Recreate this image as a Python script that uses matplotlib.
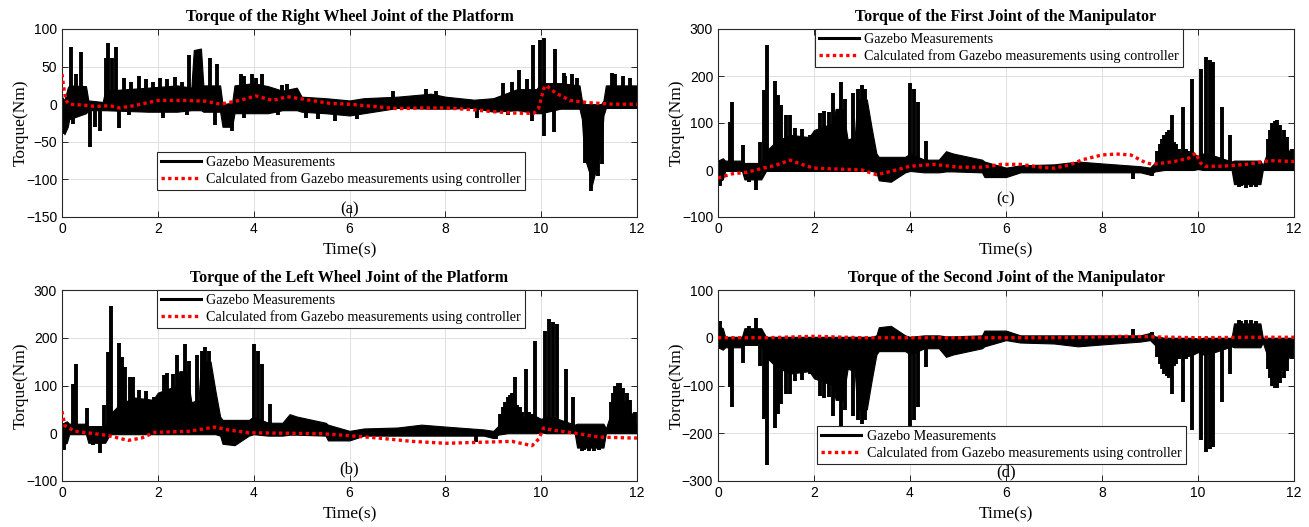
import matplotlib
matplotlib.use('Agg')
import matplotlib.pyplot as plt
from matplotlib.lines import Line2D

plt.rcParams['font.family'] = ['Liberation Serif', 'DejaVu Serif']

# ---- right wheel joint (a): black measurement band + spikes, red controller curve
wheel_band_t = [0, 0.05, 0.12, 0.15, 0.5, 0.55, 0.85, 0.9, 1.8, 2.4, 2.7, 2.75, 2.9, 2.95, 3.3,
                3.35, 3.55, 3.6, 4.0, 4.3, 4.6, 4.9, 5.0, 5.5, 6.0, 6.3, 7.0, 7.7, 8.0, 8.6,
                9.0, 9.5, 9.9, 10.0, 10.4, 10.8, 10.85, 10.9, 11.0, 11.05, 11.15, 11.25, 11.3, 11.35, 12]
wheel_band_hi = [10, 5, 22, 25, 24, 5, 3, 18, 22, 25, 22, 72, 74, 25, 25,
                 0, 2, 25, 28, 24, 18, 22, 10, 8, 5, 8, 10, 14, 10, 6,
                 8, 20, 20, 28, 28, 25, 5, 0, 0, 0, 0, 0, 5, 25, 25]
wheel_band_lo = [-5, -40, -30, -20, -12, -8, -8, -8, -10, -10, -8, -8, -8, -10, -10,
                 -30, -30, -12, -12, -12, -8, -8, -10, -12, -15, -12, -5, -6, -6, -5,
                 -10, -8, -12, -12, -6, -6, -20, -70, -90, -110, -85, -60, -15, -5, -5]
wheel_spike_t = [0.19, 0.29, 0.40, 0.91, 0.97, 1.04, 1.13, 2.64, 3.09, 3.24, 3.74, 3.97, 4.17,
                 9.53, 9.84, 9.97, 10.06, 10.28, 10.47, 10.64, 11.48,
                 1.3, 1.45, 1.6, 1.75, 1.9, 2.05, 2.2, 2.35, 2.5, 3.8, 4.05, 4.6, 4.7,
                 6.9, 7.6, 7.8, 9.2, 9.4, 9.7, 10.5, 10.75, 11.55, 11.7, 11.85,
                 0.03, 0.22, 0.58, 0.69, 0.79, 1.18, 3.19, 3.54, 8.66, 10.05, 10.26,
                 10.92, 11.05, 11.18, 11.27,
                 1.4, 2.1, 2.6, 3.8, 4.5, 5.1, 5.35, 5.7, 6.15, 9.3, 9.8]
wheel_spike_v = [76, 40, 70, 62, 82, 62, 76, 65, 62, 54, 40, 40, 40,
                 45, 79, 85, 88, 73, 42, 40, 42,
                 35, 30, 38, 33, 30, 35, 33, 36, 30, 38, 35, 26, 27,
                 18, 20, 18, 28, 30, 33, 38, 35, 40, 38, 35,
                 -40, -26, -57, -30, -36, -31, -27, -35, -19, -42, -37,
                 -78, -115, -95, -80,
                 -15, -18, -15, -18, -15, -18, -20, -22, -20, -15, -22]
right_ctrl_t = [0, 0.03, 0.08, 0.15, 0.4, 0.7, 1.0, 1.2, 1.5, 2.0, 2.5, 3.0, 3.3, 3.7, 4.05, 4.4,
                4.7, 5.2, 5.6, 6.0, 6.5, 7.0, 7.5, 8.0, 8.5, 9.0, 9.5, 9.85, 9.95, 10.05, 10.1,
                10.3, 10.6, 11.0, 11.5, 12]
right_ctrl_v = [40, 25, 5, 0, -1, -3, -2, -5, -2, 5, 5, 4, 0, 5, 11, 5,
                10, 5, 1, 0, -3, -6, -5, -5, -7, -10, -12, -12, -5, 20, 25,
                15, 5, 2, 0, 0]

# ---- joint measurement (shared by (b), (c); (d) shows it mirrored)
joint_band_t = [0, 0.1, 0.15, 0.5, 0.55, 0.9, 1.0, 1.2, 1.5, 1.9, 2.0, 2.4, 2.45, 2.6, 2.7,
                2.85, 2.9, 3.1, 3.2, 3.3, 3.35, 3.6, 3.9, 4.0, 4.3, 4.6, 4.75, 4.9, 5.5, 5.55,
                6.0, 6.3, 7.0, 7.5, 8.0, 8.8, 9.0, 9.1, 9.3, 9.45, 9.6, 9.9, 10.0, 10.1, 10.35,
                10.7, 10.75, 11.3, 11.35, 11.45, 11.55, 11.65, 11.75, 11.9, 12]
joint_band_hi = [20, 25, 20, 20, 15, 15, 40, 60, 75, 70, 85, 100, 130, 130, 65,
                 70, 150, 150, 90, 35, 28, 28, 28, 35, 22, 22, 40, 35, 22, 18,
                 5, 10, 12, 18, 14, 8, 5, 15, 45, 55, 35, 35, 30, 35, 30,
                 18, 20, 20, 10, 40, 70, 75, 65, 40, 15]
joint_band_lo = [-25, -20, -2, -2, -20, -20, -2, -2, -2, -2, -2, -2, -2, -2, -2,
                 -2, -2, -2, -2, -5, -22, -25, -5, -2, -5, -5, -3, -3, -5, -15,
                 -15, -5, -5, -5, -5, -5, -10, -3, 0, 0, 0, 0, 2, 0, 0,
                 0, -30, -30, 0, 0, 0, 0, 0, 0, 0]
joint_spike_t = [0.24, 0.29, 0.52, 0.87, 0.95, 1.03, 1.18, 1.25, 1.32, 1.42, 1.49, 1.6, 1.75,
                 1.91, 2.12, 2.2, 2.31, 2.4, 2.57, 2.64, 2.81, 2.92, 2.99, 3.06, 4.01, 4.08,
                 4.17, 4.34, 9.45, 9.69, 9.87, 10.07, 10.16, 10.25, 10.32, 10.51, 10.66,
                 9.15, 9.2, 9.25, 9.3, 9.35, 9.4, 9.5, 9.55, 9.6, 9.75, 9.8,
                 11.45, 11.5, 11.55, 11.6, 11.65, 11.7, 11.8, 11.85, 11.95,
                 0.05, 0.65, 0.8, 8.65, 9.05, 10.85, 10.9, 11.0, 11.1, 11.2]
joint_spike_v = [103, 145, 53, 60, 170, 266, 189, 159, 138, 117, 117, 90, 88,
                 75, 121, 126, 124, 163, 187, 152, 163, 173, 180, 173, 186, 173,
                 144, 62, 117, 135, 194, 215, 240, 233, 229, 135, 75,
                 40, 55, 65, 75, 80, 85, 60, 55, 45, 45, 40,
                 65, 85, 100, 105, 106, 95, 85, 70, 45,
                 -35, -25, -42, -19, -12, -37, -35, -38, -37, -36]

left_ctrl_t = [0, 0.06, 0.27, 0.69, 0.97, 1.38, 1.66, 1.94, 2.64, 3.19, 3.47, 3.89, 4.72, 5.42,
               5.98, 6.6, 7.3, 8.0, 8.7, 9.39, 9.81, 9.95, 10.05, 10.22, 10.78, 11.2, 11.9, 12]
left_ctrl_v = [46, 16, 4, -1, -5, -15, -10, 2, 4, 13, 7, 1, 0, -1,
               -5, -10, -17, -21, -19, -17, -26, -12, 11, 7, -1, -8, -10, -10]
first_ctrl_t = [0, 0.3, 0.6, 0.9, 1.2, 1.5, 1.8, 2.0, 2.5, 3.0, 3.3, 3.6, 4.0, 4.5, 5.0, 5.5,
                5.9, 6.3, 6.8, 7.0, 7.3, 7.6, 8.0, 8.3, 8.6, 8.9, 9.05, 9.5, 9.8, 9.95, 10.05,
                10.15, 10.5, 11.0, 11.5, 12]
first_ctrl_v = [-17, -8, -5, 3, 10, 21, 10, 4, 2, 0, -10, -3, 8, 12, 6, 6,
                12, 12, 5, 4, 10, 22, 32, 34, 32, 16, 12, 18, 25, 36, 15,
                8, 8, 12, 20, 18]
second_ctrl_t = [0, 1, 2, 3, 4, 5, 6, 7, 8, 8.5, 9, 10, 11, 12]
second_ctrl_v = [0, 0, 3, 0, 0, 0, 0, 0, 2, 3, 2, 0, 1, 1]

titles = ['Torque of the Right Wheel Joint of the Platform',
          'Torque of the First Joint of the Manipulator',
          'Torque of the Left Wheel Joint of the Platform',
          'Torque of the Second Joint of the Manipulator']
tags = ['(a)', '(c)', '(b)', '(d)']
legend_labels = ['Gazebo Measurements', 'Calculated from Gazebo measurements using controller']

fig = plt.figure(figsize=(13.09, 5.27), dpi=100)
W, H = 1309, 527
boxes = [(62, 29, 637, 217), (718, 29, 1294, 217), (62, 290, 637, 481), (718, 290, 1294, 481)]
axs = [fig.add_axes([x0 / W, 1 - y1 / H, (x1 - x0) / W, (y1 - y0) / H]) for x0, y0, x1, y1 in boxes]

neg = lambda v: [-x for x in v]
panels = [
    (wheel_band_t, wheel_band_hi, wheel_band_lo, wheel_spike_t, wheel_spike_v, right_ctrl_t, right_ctrl_v,
     (-150, 100), 50, (6, -140)),
    (joint_band_t, joint_band_hi, joint_band_lo, joint_spike_t, joint_spike_v, first_ctrl_t, first_ctrl_v,
     (-100, 300), 100, (6, -62)),
    (joint_band_t, joint_band_hi, joint_band_lo, joint_spike_t, joint_spike_v, left_ctrl_t, left_ctrl_v,
     (-100, 300), 100, (6, -75)),
    (joint_band_t, neg(joint_band_lo), neg(joint_band_hi), joint_spike_t, neg(joint_spike_v),
     second_ctrl_t, second_ctrl_v, (-300, 100), 100, (6, -283)),
]
legend_pos = [('lower left', (0.165, 0.144)), ('upper left', (0.168, 1.0)),
              ('upper left', (0.165, 1.0)), ('lower left', (0.172, 0.09))]

for ax, p, title, tag, (loc, anchor) in zip(axs, panels, titles, tags, legend_pos):
    bt, bhi, blo, st, sv, ct, cv, ylim, ystep, tagpos = p
    ax.fill_between(bt, blo, bhi, color='k', lw=0.8, edgecolor='k', zorder=2)
    ax.vlines(st, 0, sv, color='k', lw=2.8, zorder=2)
    ax.plot(ct, cv, color='red', lw=2.4, linestyle=(0, (1, 1)), zorder=3)
    ax.set_xlim(0, 12)
    ax.set_ylim(*ylim)
    ax.set_xticks(range(0, 13, 2))
    ax.set_yticks(range(ylim[0], ylim[1] + 1, ystep))
    ax.grid(True, color='#e0e0e0', lw=0.7, zorder=0)
    ax.set_axisbelow(True)
    ax.tick_params(direction='in', top=True, right=True, length=4, width=0.7,
                   labelsize=10, labelfontfamily='Liberation Sans', colors='#262626', labelcolor='black')
    for s in ax.spines.values():
        s.set_color('#262626')
        s.set_linewidth(0.8)
    ax.set_title(title, fontsize=11.5, fontweight='bold', pad=6)
    ax.set_xlabel('Time(s)', fontsize=12.5, labelpad=5)
    ax.set_ylabel('Torque(Nm)', fontsize=12.5, labelpad=-2)
    ax.text(tagpos[0], tagpos[1], tag, fontsize=12, ha='center', va='center', zorder=1)
    handles = [Line2D([], [], color='k', lw=2.2),
               Line2D([], [], color='red', lw=2.4, linestyle=(0, (1, 1)))]
    leg = ax.legend(handles, legend_labels, loc=loc, bbox_to_anchor=anchor, borderaxespad=0,
                    fontsize=10.2, frameon=True, fancybox=False, framealpha=1, edgecolor='#262626',
                    handlelength=2.8, labelspacing=0.2, borderpad=0.3, handletextpad=0.4)
    leg.get_frame().set_linewidth(0.8)
    leg.set_zorder(6)

fig.savefig('out.png', dpi=100)
